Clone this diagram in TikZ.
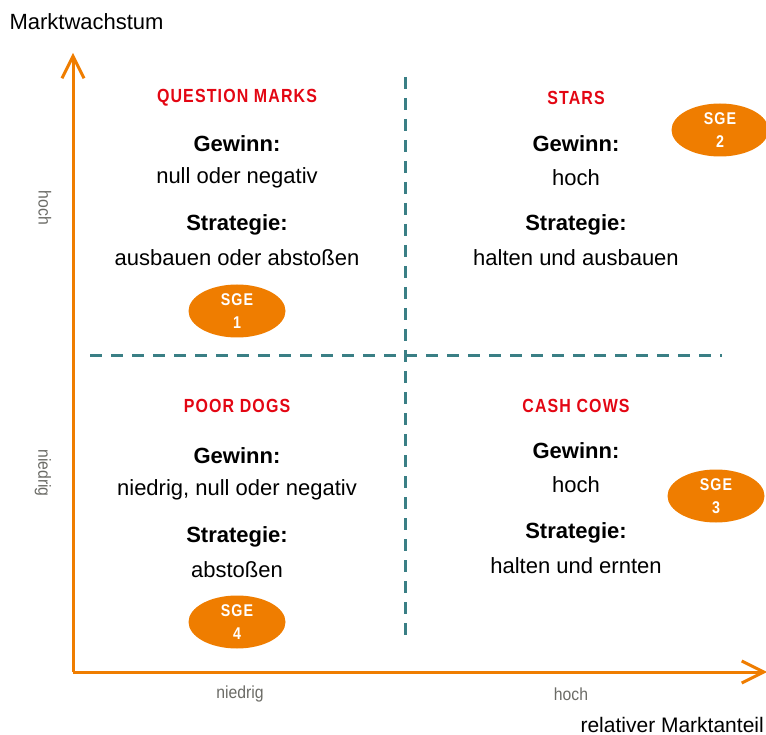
\documentclass[tikz,border=0pt]{standalone}
\usepackage{fontspec}
\setmainfont{Liberation Sans}
\newfontfamily\condfont[FakeStretch=0.9]{Liberation Sans}
\newfontfamily\titlefont[FakeStretch=0.84,LetterSpace=6]{Liberation Sans}
\usetikzlibrary{arrows.meta,shapes.geometric}
\definecolor{bcgorange}{HTML}{EF7D00}
\definecolor{bcgred}{HTML}{E30613}
\definecolor{bcgteal}{HTML}{3A7F85}
\definecolor{bcggray}{HTML}{6B6B66}
\tikzset{
  axis/.style={bcgorange,line width=3pt,-{Straight Barb[length=22pt,width=22pt]}},
  divider/.style={bcgteal,line width=3pt,dash pattern=on 12pt off 9pt},
  head/.style={text=bcgred,font=\titlefont\bfseries\fontsize{19}{22}\selectfont},
  key/.style={font=\bfseries\fontsize{22}{26}\selectfont},
  val/.style={font=\fontsize{22}{26}\selectfont},
  scale label/.style={text=bcggray,font=\condfont\fontsize{17.5}{20}\selectfont},
  sge/.style={ellipse,fill=bcgorange,minimum width=97pt,minimum height=53pt,inner sep=0pt,
    text=white,align=center,font=\titlefont\bfseries\fontsize{17}{23}\selectfont}
}
\begin{document}
\begin{tikzpicture}[x=1pt,y=-1pt]
\useasboundingbox(0,0)rectangle(766,735);
% axes
\coordinate(O)at(73,672);
\coordinate(Y)at(73,53);
\coordinate(X)at(767,672);
\draw[axis](O)--(Y);
\draw[axis](O)--(X);
\node[val,anchor=west](ytitle)at(6,22){Marktwachstum};
\node[val,font=\fontsize{21}{24}\selectfont,anchor=base east,inner sep=1pt](xtitle)at(765,732){relativer Marktanteil};
\node[scale label,rotate=-90](yhigh)at(45,208){hoch};
\node[scale label,rotate=-90](ylow)at(43,473){niedrig};
\node[scale label](xlow)at(240,694){niedrig};
\node[scale label](xhigh)at(571,694){hoch};
% quadrant dividers
\coordinate(V1)at(405,77);
\coordinate(V2)at(405,639);
\coordinate(H1)at(90,356);
\coordinate(H2)at(722,356);
\draw[divider](V1)--(V2);
\draw[divider](H1)--(H2);
% question marks
\node[head](qm)at(237,98){QUESTION MARKS};
\node[key](qmg)at(237,144){Gewinn:};
\node[val](qmgv)at(237,178){null oder negativ};
\node[key](qms)at(237,225){Strategie:};
\node[val](qmsv)at(237,258){ausbauen oder abstoßen};
% stars
\node[head](st)at(576,98){STARS};
\node[key](stg)at(576,144){Gewinn:};
\node[val](stgv)at(576,178){hoch};
\node[key](sts)at(576,225){Strategie:};
\node[val](stsv)at(576,258){halten und ausbauen};
% poor dogs
\node[head](pd)at(237,406){POOR DOGS};
\node[key](pdg)at(237,456){Gewinn:};
\node[val](pdgv)at(237,490){niedrig, null oder negativ};
\node[key](pds)at(237,537){Strategie:};
\node[val](pdsv)at(237,570){abstoßen};
% cash cows
\node[head](cc)at(576,406){CASH COWS};
\node[key](ccg)at(576,451){Gewinn:};
\node[val](ccgv)at(576,485){hoch};
\node[key](ccs)at(576,533){Strategie:};
\node[val](ccsv)at(576,566){halten und ernten};
% business units
\foreach\n/\x/\y in{1/237/311,2/720/130,3/716/496,4/237/622}{
  \node[sge](sge\n)at(\x,\y){SGE\\\n};
}
\end{tikzpicture}
\end{document}
